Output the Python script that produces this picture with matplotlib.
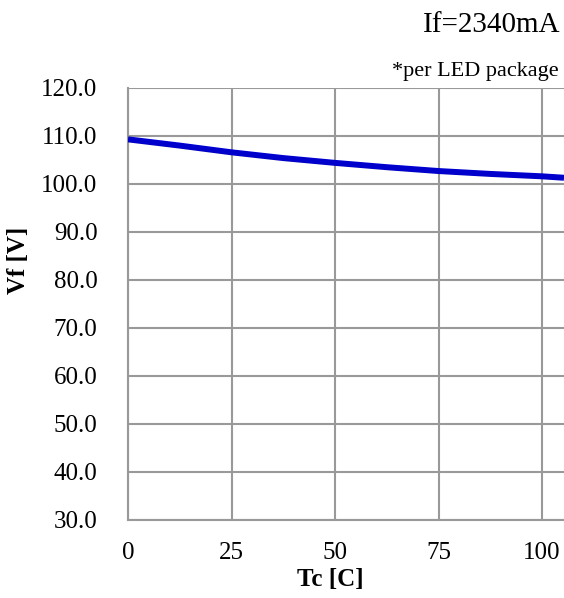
import numpy as np

import matplotlib
matplotlib.use('agg')

from matplotlib import pyplot as plt

plt.rcParams['font.family'] = ['Liberation Serif', 'DejaVu Serif']

# values
tc = [0, 12.5, 25, 37.5, 50, 62.5, 75, 87.5, 100, 105.3]
vf = [109.3, 108.0, 106.6, 105.4, 104.4, 103.5, 102.7, 102.1, 101.6, 101.3]

x_ticks = [0, 25, 50, 75, 100]
y_ticks = np.arange(30, 121, 10)

grid_col = "#999999"

fig = plt.figure(figsize=(5.64, 5.98), dpi=100)
ax = fig.add_axes([128/564, 1 - 520/598, 436/564, 432/598])

ax.plot(tc, vf, color="#0000CC", linewidth=4.3, solid_capstyle="butt", zorder=3)

ax.set_xlim(0, 105.3)
ax.set_ylim(30, 120)
ax.set_xticks(x_ticks)
ax.set_yticks(y_ticks)
ax.set_yticklabels(["%.1f" % v for v in y_ticks])
ax.grid(True, color=grid_col, linewidth=1.5)
ax.set_axisbelow(True)

for s in ["top", "right"]:
    ax.spines[s].set_visible(False)
for s in ["left", "bottom"]:
    ax.spines[s].set_color(grid_col)
    ax.spines[s].set_linewidth(1.5)

ax.tick_params(axis="both", length=0, labelsize=18)
ax.tick_params(axis="x", pad=16)
ax.tick_params(axis="y", pad=22)

ax.set_xlabel("Tc [C]", fontsize=18, fontweight="bold")
ax.xaxis.set_label_coords(0.463, -0.112)
ax.set_ylabel("Vf [V]", fontsize=18, fontweight="bold")
ax.yaxis.set_label_coords(-0.225, 0.6)

fig.text(560/564, 1 - 32/598, "If=2340mA", ha="right", va="baseline", fontsize=21)
fig.text(559/564, 1 - 76/598, "*per LED package", ha="right", va="baseline", fontsize=16)

fig.savefig("out.png", dpi=100)
